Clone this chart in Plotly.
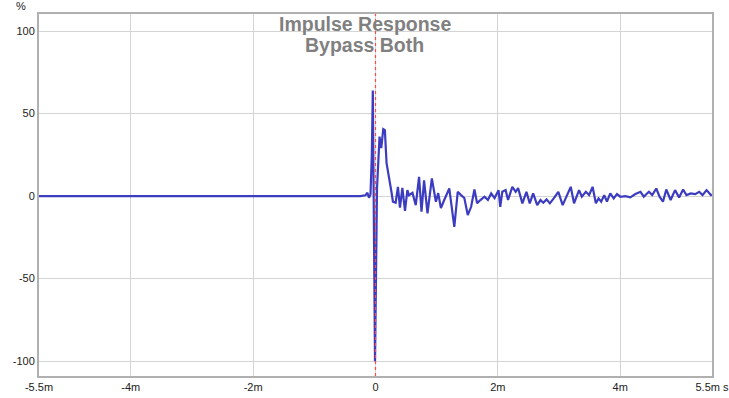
import plotly.graph_objects as go

# time in milliseconds, amplitude in %
time_ms = [-5.5, -1.0, -0.25, -0.164, -0.132, -0.107, -0.082, -0.06, -0.044, -0.008, 0.025,
           0.066, 0.094, 0.127, 0.153, 0.181, 0.214, 0.263, 0.285, 0.329, 0.367, 0.400,
           0.439, 0.482, 0.521, 0.548, 0.604, 0.658, 0.712, 0.752, 0.794, 0.850, 0.921,
           0.987, 1.025, 1.069, 1.123, 1.206, 1.288, 1.344, 1.398, 1.452, 1.508, 1.563,
           1.617, 1.661, 1.715, 1.781, 1.837, 1.891, 1.946, 2.011, 2.039, 2.072, 2.127,
           2.166, 2.237, 2.291, 2.331, 2.401, 2.467, 2.521, 2.577, 2.643, 2.697, 2.742,
           2.796, 2.850, 2.916, 2.988, 3.059, 3.137, 3.191, 3.245, 3.327, 3.372, 3.438,
           3.492, 3.548, 3.602, 3.646, 3.689, 3.738, 3.783, 3.837, 3.893, 3.947, 4.002,
           4.084, 4.166, 4.248, 4.331, 4.386, 4.413, 4.469, 4.523, 4.589, 4.643, 4.699,
           4.753, 4.824, 4.896, 4.962, 5.028, 5.082, 5.153, 5.225, 5.291, 5.345, 5.411,
           5.482, 5.5]
amplitude = [0, 0, 0, 0.5, 2, -1, 1, 25, 64, -100, 5,
             36, 29, 40.6, 40, 20, 11.5, 2, -3.4, -4, 5.6, -7,
             5, -9, 3.6, 0.5, 2, -5.5, 11.7, -9.5, 9.5, -10.5, 10.7,
             -3.4, 1.8, -7.3, -2.4, 4.6, -18.6, 2.6, 0.6, -1.2, -11.5, -6.5,
             4, -4.3, -2.4, -0.4, -2.4, 1.6, -1.2, 3.6, -6.5, 2.6, 3.6,
             -2.4, 5.6, 2.6, 4.8, -4.4, 2.6, -4.4, 1.6, -5.5, -2.4, -4,
             -2, -4.4, -1.2, 2.6, -5.5, 1.6, 5.6, -4.4, 3.6, -0.4, 2.6,
             0.6, 5.6, -4.4, -1.4, -3.4, 0.6, -3.4, 1.6, -1.4, 1.2, -0.4,
             0, -0.8, 1.2, 2.6, -0.4, 0.6, 2.6, 0.6, 4.6, -0.4, -3.4,
             4, -2.4, 3.6, -0.8, 4, 0.6, 1.6, 1.2, 2.6, 0.6, 3.6,
             0.6, 1]

x_tick_vals = [-5.5, -4, -2, 0, 2, 4, 5.5]
x_tick_text = ["-5.5m", "-4m", "-2m", "0", "2m", "4m", "5.5m s"]
y_tick_vals = [-100, -50, 0, 50, 100]
y_tick_text = ["-100", "-50", "0", "50", "100"]
title_lines = ["Impulse Response", "Bypass Both"]

fig = go.Figure()
fig.add_trace(go.Scatter(x=time_ms, y=amplitude, mode="lines",
                         line=dict(color="#3c3cc0", width=2.2), showlegend=False,
                         hoverinfo="skip"))

fig.add_vline(x=0, line=dict(color="#ff4a4a", width=1.2, dash="dot"))

axis_common = dict(showline=True, mirror=True, linecolor="#b0b0b0", linewidth=2,
                   gridcolor="#d4d4d4", gridwidth=1, zeroline=False, ticks="",
                   automargin=False,
                   tickfont=dict(family="Liberation Sans, Arial", size=11, color="#222"))

fig.update_xaxes(range=[-5.5001, 5.5001], tickvals=x_tick_vals, ticktext=x_tick_text, **axis_common)
fig.update_yaxes(range=[-109, 110.3], tickvals=y_tick_vals, ticktext=y_tick_text, **axis_common)

for line_text, ypos in zip(title_lines, [0.972, 0.914]):
    fig.add_annotation(x=0.484, y=ypos, xref="paper", yref="paper", xanchor="center",
                       yanchor="middle", text="<b>" + line_text + "</b>", showarrow=False,
                       font=dict(family="Liberation Sans, Arial", size=19.5, color="#808080"))
fig.add_annotation(x=-0.016, y=1.022, xref="paper", yref="paper", xanchor="right",
                   yanchor="middle", text="%", showarrow=False,
                   font=dict(family="Liberation Sans, Arial", size=11, color="#222"))

fig.update_layout(width=729, height=398, margin=dict(l=39, r=17, t=14, b=22),
                  plot_bgcolor="white", paper_bgcolor="white")

fig.write_html("out.html", config={"displayModeBar": False},
               post_script="document.body.style.margin='0px';")
